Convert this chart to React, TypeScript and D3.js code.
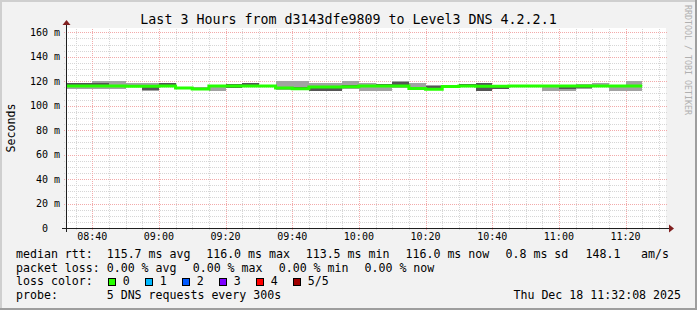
import React from 'react';
import * as d3 from 'd3';

const TITLE = 'Last 3 Hours from d3143dfe9809 to Level3 DNS 4.2.2.1';
const WATERMARK = 'RRDTOOL / TOBI OETIKER';
const Y_LABEL = 'Seconds';
const START_TIME = '08:32:08';
const END_TIME = '11:32:08';
const Y_MAX = 163.5;

const binStarts = [
  '08:30', '08:35', '08:40', '08:45', '08:50', '08:55', '09:00', '09:05', '09:10', '09:15',
  '09:20', '09:25', '09:30', '09:35', '09:40', '09:45', '09:50', '09:55', '10:00', '10:05',
  '10:10', '10:15', '10:20', '10:25', '10:30', '10:35', '10:40', '10:45', '10:50', '10:55',
  '11:00', '11:05', '11:10', '11:15', '11:20',
];
const pingMin = [
  113.6, 113.6, 114.0, 113.8, 115.0, 112.3, 115.0, 114.0, 112.5, 112.4,
  114.5, 115.2, 115.5, 113.0, 112.8, 112.3, 112.3, 113.5, 112.3, 112.3,
  114.5, 113.3, 113.0, 114.2, 115.5, 112.2, 113.8, 115.6, 115.6, 112.3,
  112.3, 114.0, 115.5, 112.3, 112.3,
];
const pingLow = [
  115.5, 115.5, 115.3, 115.5, 115.3, 112.5, 115.3, 114.2, 113.2, 115.2,
  114.6, 115.4, 115.6, 113.5, 113.0, 112.4, 112.4, 114.5, 115.0, 115.5,
  115.5, 113.5, 113.2, 114.3, 115.6, 112.3, 113.9, 115.7, 115.8, 115.6,
  114.0, 114.1, 115.7, 115.6, 115.5,
];
const medianRtt = [
  116.0, 116.0, 116.0, 116.0, 115.8, 115.8, 116.0, 114.5, 113.6, 116.0,
  116.0, 116.0, 116.0, 114.5, 113.8, 115.2, 115.3, 115.5, 116.0, 116.0,
  116.0, 114.0, 113.5, 115.6, 116.0, 115.8, 115.8, 116.0, 116.0, 116.0,
  116.0, 116.0, 116.0, 116.0, 116.0,
];
const pingHigh = [
  118.5, 118.5, 118.3, 117.0, 117.0, 116.5, 118.5, 115.0, 114.0, 116.5,
  117.4, 118.4, 116.6, 115.5, 115.0, 115.8, 115.7, 116.5, 117.0, 117.6,
  119.5, 114.6, 116.3, 116.3, 117.6, 118.6, 116.3, 116.3, 116.2, 116.3,
  116.3, 116.5, 116.3, 116.3, 116.5,
];
const pingMax = [
  118.7, 118.7, 120.4, 120.5, 118.5, 118.3, 118.7, 115.2, 115.0, 117.0,
  117.6, 118.6, 117.0, 120.4, 120.4, 118.5, 118.3, 120.4, 118.6, 117.8,
  120.3, 118.5, 116.5, 116.4, 117.7, 118.7, 116.4, 116.4, 116.4, 116.5,
  116.5, 117.7, 118.6, 116.5, 120.4,
];

const yMajorTicks = [0, 20, 40, 60, 80, 100, 120, 140, 160];
const yMinorStep = 5;
const xTickLabels = ['08:40', '09:00', '09:20', '09:40', '10:00', '10:20', '10:40', '11:00', '11:20'];

const legendRtt = [
  ['median rtt:', 16], ['115.7 ms avg', 106.7], ['116.0 ms max', 206.2], ['113.5 ms min', 305.7],
  ['116.0 ms now', 405.5], ['0.8 ms sd', 505.5], ['148.1', 585.5], ['am/s', 641],
];
const legendLoss = [
  ['packet loss:', 16], ['0.00 % avg', 106.7], ['0.00 % max', 192.7], ['0.00 % min', 278.7], ['0.00 % now', 364.5],
];
const lossLabels = ['0', '1', '2', '3', '4', '5/5'];
const lossColors = ['#26ff00', '#00b8ff', '#0059ff', '#7e00ff', '#ff0000', '#a00000'];
const probeText = '5 DNS requests every 300s';
const dateText = 'Thu Dec 18 11:32:08 2025';

const W = 697;
const H = 310;
const X0 = 66;
const XS = 600;
const Y0 = 228;
const YS = 200;
const FONT = '"DejaVu Sans Mono", monospace';

const parse = (s: string) => {
  const [h, m, sec] = s.split(':').map(Number);
  return new Date(2025, 11, 18, h, m, sec || 0);
};

export default function App() {
  const t0 = parse(START_TIME);
  const t1 = parse(END_TIME);
  const x = d3.scaleTime().domain([t0, t1]).range([X0, X0 + XS]);
  const y = d3.scaleLinear().domain([0, Y_MAX]).range([Y0, Y0 - YS]);

  const bins = binStarts.map((s, i) => {
    const b = parse(s);
    const e = d3.timeMinute.offset(b, 5);
    return { b, e, min: pingMin[i], lo: pingLow[i], med: medianRtt[i], hi: pingHigh[i], max: pingMax[i] };
  });

  const vTimes = d3.timeMinute.every(5)!.range(t0, t1);
  const hVals = d3.range(yMinorStep, Y_MAX, yMinorStep);

  const medPts: [Date, number][] = bins.map((d) => [d.b, d.med]);
  medPts.push([bins[bins.length - 1].e, bins[bins.length - 1].med]);
  const medLine = d3
    .line<[Date, number]>()
    .x((d) => Math.max(X0, x(d[0])))
    .y((d) => y(d[1]))
    .curve(d3.curveStepAfter)(medPts);

  const minorCol = '#d6d6d6';
  const majorCol = '#f2aaaa';

  return (
    <svg width={W} height={H} style={{ display: 'block', position: 'absolute', left: 0, top: 0 }} fontFamily={FONT}>
      <rect x={0} y={0} width={W} height={H} fill="#f2f2f2" />
      <rect x={0} y={0} width={W} height={2} fill="#cfcfcf" />
      <rect x={0} y={0} width={2} height={H} fill="#cfcfcf" />
      <rect x={0} y={H - 2} width={W} height={2} fill="#9e9e9e" />
      <rect x={W - 2} y={0} width={2} height={H} fill="#9e9e9e" />
      <rect x={X0} y={Y0 - YS} width={XS} height={YS} fill="#ffffff" />

      <g shapeRendering="crispEdges" strokeWidth={1} strokeDasharray="1,1">
        {hVals.filter((v) => v % 20 !== 0).map((v) => (
          <line key={'hm' + v} x1={X0 - 2} x2={X0 + XS + 2} y1={Math.round(y(v)) + 0.5} y2={Math.round(y(v)) + 0.5} stroke={minorCol} />
        ))}
        {vTimes.filter((t) => t.getMinutes() % 20 !== 0).map((t) => (
          <line key={'vm' + t.getTime()} x1={Math.round(x(t)) + 0.5} x2={Math.round(x(t)) + 0.5} y1={Y0 + 2} y2={Y0 - YS} stroke={minorCol} />
        ))}
        {hVals.filter((v) => v % 20 === 0).map((v) => (
          <line key={'hM' + v} x1={X0 - 2} x2={X0 + XS + 2} y1={Math.round(y(v)) + 0.5} y2={Math.round(y(v)) + 0.5} stroke={majorCol} />
        ))}
        {vTimes.filter((t) => t.getMinutes() % 20 === 0).map((t) => (
          <line key={'vM' + t.getTime()} x1={Math.round(x(t)) + 0.5} x2={Math.round(x(t)) + 0.5} y1={Y0 + 2} y2={Y0 - YS} stroke={majorCol} />
        ))}
      </g>

      <g shapeRendering="crispEdges">
        {bins.map((d, i) => {
          const xa = Math.max(X0, x(d.b));
          const xb = x(d.e);
          return (
            <g key={'s' + i}>
              <rect x={xa} width={xb - xa} y={y(d.max)} height={y(d.min) - y(d.max)} fill="#a2a2a2" />
              <rect x={xa} width={xb - xa} y={y(d.hi)} height={y(d.lo) - y(d.hi)} fill="#555555" />
            </g>
          );
        })}
      </g>
      <path d={medLine || ''} fill="none" stroke={lossColors[0]} strokeWidth={3} />

      <g shapeRendering="crispEdges" stroke="#1f1f1f" strokeWidth={1}>
        <line x1={X0 - 4} x2={X0 + XS + 4} y1={Y0 + 0.5} y2={Y0 + 0.5} />
        <line x1={X0 + 0.5} x2={X0 + 0.5} y1={Y0 + 4} y2={Y0 - YS - 4} />
      </g>
      <path d={`M${X0 + XS + 3},${Y0 - 3.5}L${X0 + XS + 3},${Y0 + 4.5}L${X0 + XS + 8},${Y0 + 0.5}Z`} fill="#801f1f" />
      <path d={`M${X0 - 3.5},${Y0 - YS - 3}L${X0 + 4.5},${Y0 - YS - 3}L${X0 + 0.5},${Y0 - YS - 8}Z`} fill="#801f1f" />

      <g fontSize={10} fill="#000">
        {yMajorTicks.map((v) => (
          <text key={'yl' + v} x={60} y={y(v) + 3.5} textAnchor="end" style={{ whiteSpace: 'pre' }}>
            {v === 0 ? '0  ' : `${v} m`}
          </text>
        ))}
        {xTickLabels.map((s) => (
          <text key={'xl' + s} x={x(parse(s))} y={240} textAnchor="middle">
            {s}
          </text>
        ))}
      </g>

      <text x={348.5} y={24} fontSize={13.3} textAnchor="middle" fill="#000">
        {TITLE}
      </text>
      <text transform={`translate(15,${Y0 - YS / 2}) rotate(-90)`} fontSize={11.6} textAnchor="middle" fill="#000">
        {Y_LABEL}
      </text>
      <text transform="translate(685,5) rotate(90)" fontSize={8.3} fill="#b0b0b0">
        {WATERMARK}
      </text>

      <g fontSize={11.6} fill="#000">
        {legendRtt.map(([s, px]) => (
          <text key={'r' + s} x={px as number} y={258}>
            {s}
          </text>
        ))}
        {legendLoss.map(([s, px]) => (
          <text key={'l' + s} x={px as number} y={271.5}>
            {s}
          </text>
        ))}
        <text x={16} y={285}>loss color:</text>
        {lossLabels.map((s, i) => (
          <g key={'lc' + s}>
            <rect x={108.5 + i * 37} y={278.5} width={7} height={7} fill={lossColors[i]} stroke="#000" strokeWidth={1} shapeRendering="crispEdges" />
            <text x={122.7 + i * 37} y={285}>
              {s}
            </text>
          </g>
        ))}
        <text x={16} y={298.5}>probe:</text>
        <text x={106.7} y={298.5}>{probeText}</text>
        <text x={681} y={298.5} textAnchor="end">
          {dateText}
        </text>
      </g>
    </svg>
  );
}
